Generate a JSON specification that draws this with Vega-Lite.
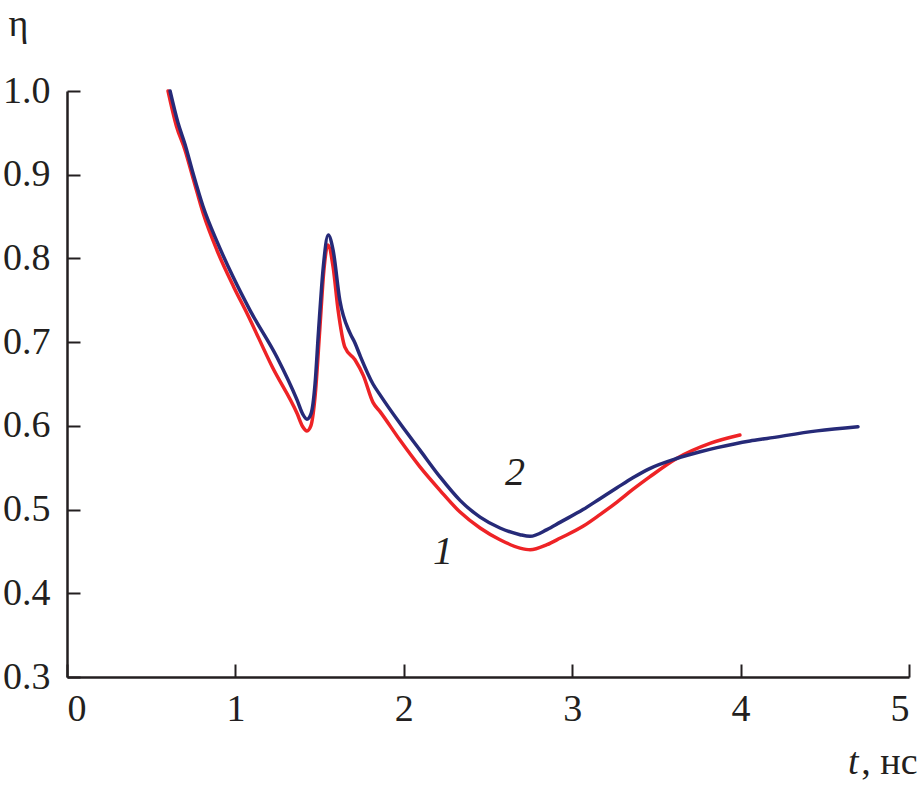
{
  "$schema": "https://vega.github.io/schema/vega-lite/v6.json",
  "width": 842,
  "height": 586,
  "autosize": {"type": "none"},
  "padding": {"left": 67, "top": 91, "right": 11, "bottom": 109},
  "background": "white",
  "config": {
    "view": {"stroke": null},
    "axis": {
      "grid": false,
      "domainColor": "#231f20",
      "domainWidth": 2.5,
      "tickColor": "#231f20",
      "tickWidth": 2,
      "tickSize": -13,
      "labelPadding": 27,
      "labelFont": "Liberation Serif",
      "labelFontSize": 38,
      "labelColor": "#231f20",
      "titleFont": "Liberation Serif",
      "titleFontSize": 38,
      "titleFontWeight": "normal",
      "titleColor": "#231f20"
    }
  },
  "datasets": {
    "curves": [
      {"t": 0.600, "eta": 1.000, "s": "1"},
      {"t": 0.650, "eta": 0.958, "s": "1"},
      {"t": 0.700, "eta": 0.930, "s": "1"},
      {"t": 0.750, "eta": 0.895, "s": "1"},
      {"t": 0.810, "eta": 0.853, "s": "1"},
      {"t": 0.890, "eta": 0.810, "s": "1"},
      {"t": 0.990, "eta": 0.766, "s": "1"},
      {"t": 1.070, "eta": 0.734, "s": "1"},
      {"t": 1.220, "eta": 0.670, "s": "1"},
      {"t": 1.366, "eta": 0.615, "s": "1"},
      {"t": 1.400, "eta": 0.599, "s": "1"},
      {"t": 1.425, "eta": 0.594, "s": "1"},
      {"t": 1.448, "eta": 0.600, "s": "1"},
      {"t": 1.473, "eta": 0.635, "s": "1"},
      {"t": 1.502, "eta": 0.718, "s": "1"},
      {"t": 1.525, "eta": 0.785, "s": "1"},
      {"t": 1.549, "eta": 0.816, "s": "1"},
      {"t": 1.580, "eta": 0.790, "s": "1"},
      {"t": 1.610, "eta": 0.738, "s": "1"},
      {"t": 1.650, "eta": 0.694, "s": "1"},
      {"t": 1.710, "eta": 0.679, "s": "1"},
      {"t": 1.760, "eta": 0.660, "s": "1"},
      {"t": 1.817, "eta": 0.628, "s": "1"},
      {"t": 1.859, "eta": 0.617, "s": "1"},
      {"t": 1.977, "eta": 0.583, "s": "1"},
      {"t": 2.096, "eta": 0.551, "s": "1"},
      {"t": 2.215, "eta": 0.523, "s": "1"},
      {"t": 2.334, "eta": 0.497, "s": "1"},
      {"t": 2.453, "eta": 0.478, "s": "1"},
      {"t": 2.571, "eta": 0.464, "s": "1"},
      {"t": 2.690, "eta": 0.454, "s": "1"},
      {"t": 2.750, "eta": 0.452, "s": "1"},
      {"t": 2.850, "eta": 0.458, "s": "1"},
      {"t": 2.930, "eta": 0.466, "s": "1"},
      {"t": 3.064, "eta": 0.480, "s": "1"},
      {"t": 3.165, "eta": 0.494, "s": "1"},
      {"t": 3.266, "eta": 0.509, "s": "1"},
      {"t": 3.360, "eta": 0.524, "s": "1"},
      {"t": 3.460, "eta": 0.539, "s": "1"},
      {"t": 3.620, "eta": 0.561, "s": "1"},
      {"t": 3.818, "eta": 0.579, "s": "1"},
      {"t": 3.996, "eta": 0.589, "s": "1"},
      {"t": 0.612, "eta": 1.000, "s": "2"},
      {"t": 0.659, "eta": 0.962, "s": "2"},
      {"t": 0.701, "eta": 0.936, "s": "2"},
      {"t": 0.748, "eta": 0.902, "s": "2"},
      {"t": 0.808, "eta": 0.862, "s": "2"},
      {"t": 0.891, "eta": 0.820, "s": "2"},
      {"t": 0.986, "eta": 0.778, "s": "2"},
      {"t": 1.087, "eta": 0.738, "s": "2"},
      {"t": 1.247, "eta": 0.682, "s": "2"},
      {"t": 1.366, "eta": 0.631, "s": "2"},
      {"t": 1.400, "eta": 0.614, "s": "2"},
      {"t": 1.425, "eta": 0.608, "s": "2"},
      {"t": 1.450, "eta": 0.615, "s": "2"},
      {"t": 1.473, "eta": 0.650, "s": "2"},
      {"t": 1.493, "eta": 0.711, "s": "2"},
      {"t": 1.522, "eta": 0.790, "s": "2"},
      {"t": 1.551, "eta": 0.828, "s": "2"},
      {"t": 1.580, "eta": 0.810, "s": "2"},
      {"t": 1.620, "eta": 0.750, "s": "2"},
      {"t": 1.680, "eta": 0.711, "s": "2"},
      {"t": 1.710, "eta": 0.699, "s": "2"},
      {"t": 1.740, "eta": 0.684, "s": "2"},
      {"t": 1.817, "eta": 0.650, "s": "2"},
      {"t": 1.859, "eta": 0.637, "s": "2"},
      {"t": 1.977, "eta": 0.603, "s": "2"},
      {"t": 2.096, "eta": 0.571, "s": "2"},
      {"t": 2.215, "eta": 0.539, "s": "2"},
      {"t": 2.334, "eta": 0.511, "s": "2"},
      {"t": 2.453, "eta": 0.491, "s": "2"},
      {"t": 2.571, "eta": 0.478, "s": "2"},
      {"t": 2.690, "eta": 0.470, "s": "2"},
      {"t": 2.750, "eta": 0.468, "s": "2"},
      {"t": 2.850, "eta": 0.476, "s": "2"},
      {"t": 2.930, "eta": 0.485, "s": "2"},
      {"t": 3.064, "eta": 0.500, "s": "2"},
      {"t": 3.165, "eta": 0.513, "s": "2"},
      {"t": 3.266, "eta": 0.526, "s": "2"},
      {"t": 3.360, "eta": 0.538, "s": "2"},
      {"t": 3.460, "eta": 0.549, "s": "2"},
      {"t": 3.620, "eta": 0.561, "s": "2"},
      {"t": 3.760, "eta": 0.569, "s": "2"},
      {"t": 3.860, "eta": 0.574, "s": "2"},
      {"t": 4.056, "eta": 0.582, "s": "2"},
      {"t": 4.157, "eta": 0.585, "s": "2"},
      {"t": 4.454, "eta": 0.594, "s": "2"},
      {"t": 4.697, "eta": 0.599, "s": "2"}
    ],
    "labels": [
      {"t": 2.233, "eta": 0.449, "label": "1"},
      {"t": 2.660, "eta": 0.544, "label": "2"}
    ]
  },
  "resolve": {"axis": {"x": "independent"}},
  "layer": [
    {
      "data": {"name": "curves"},
      "mark": {"type": "line", "interpolate": "monotone", "strokeWidth": 3.5, "strokeCap": "round"},
      "encoding": {
        "x": {
          "field": "t", "type": "quantitative",
          "scale": {"domain": [0, 5], "nice": false, "zero": false},
          "axis": {
            "orient": "bottom",
            "values": [0, 1, 2, 3, 4, 5],
            "format": "d",
            "labelPadding": 26,
            "title": ", нс",
            "titleAlign": "right",
            "titleAnchor": null,
            "titleX": 850,
            "titleY": 96,
            "titleBaseline": "alphabetic"
          }
        },
        "y": {
          "field": "eta", "type": "quantitative",
          "scale": {"domain": [0.3, 1.0], "nice": false, "zero": false},
          "axis": {
            "values": [0.3, 0.4, 0.5, 0.6, 0.7, 0.8, 0.9, 1.0],
            "format": ".1f",
            "labelPadding": 30,
            "title": "η",
            "titleAngle": 0,
            "titleAlign": "left",
            "titleBaseline": "alphabetic",
            "titleX": -59,
            "titleY": -56
          }
        },
        "color": {
          "field": "s", "type": "nominal",
          "scale": {"domain": ["1", "2"], "range": ["#ee2326", "#262a78"]},
          "legend": null
        },
        "order": {"field": "t", "type": "quantitative"}
      }
    },
    {
      "data": {"name": "labels"},
      "mark": {"type": "text", "font": "Liberation Serif", "fontSize": 40, "fontStyle": "italic", "align": "center", "baseline": "middle", "color": "#231f20"},
      "encoding": {
        "x": {
          "field": "t", "type": "quantitative",
          "axis": {
            "orient": "bottom",
            "domain": false,
            "ticks": false,
            "labels": false,
            "title": "t",
            "titleFontStyle": "italic",
            "titleAlign": "right",
            "titleAnchor": null,
            "titleX": 791,
            "titleY": 96,
            "titleBaseline": "alphabetic"
          }
        },
        "y": {"field": "eta", "type": "quantitative"},
        "text": {"field": "label"}
      }
    }
  ]
}
